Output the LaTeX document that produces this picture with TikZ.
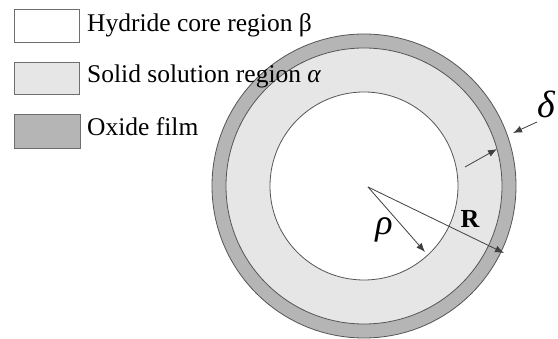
\documentclass[tikz,border=0pt]{standalone}
\usepackage{fontspec}
\setmainfont{Liberation Serif}
\usetikzlibrary{arrows.meta}
\definecolor{ringgray}{HTML}{B5B5B5}
\definecolor{solgray}{HTML}{E6E6E6}
\definecolor{edgegray}{HTML}{555555}
\definecolor{boxedge}{HTML}{6E6E6E}
\begin{document}
\begin{tikzpicture}[x=1pt,y=-1pt,
  legbox/.style={draw=boxedge,line width=0.9pt},
  legtext/.style={anchor=base west,inner sep=0pt,font=\fontsize{25.5}{30}\selectfont},
  edge/.style={draw=edgegray,line width=0.8pt},
  dimarrow/.style={draw=black!75,line width=0.8pt,-{Latex[length=9pt,width=7pt]}}]
\useasboundingbox (0,0) rectangle (558,339);
\fill[white] (0,0) rectangle (558,339);
% circles
\coordinate (C) at (364,186);
\fill[ringgray] (C) circle (152);
\draw[edge] (C) circle (152);
\fill[solgray] (C) circle (138);
\draw[edge] (C) circle (138);
\fill[white] (C) circle (94);
\draw[edge] (C) circle (94);
% legend
\draw[legbox,fill=white] (14,9) rectangle (79,42);
\draw[legbox,fill=solgray] (14,62) rectangle (79,94);
\draw[legbox,fill=ringgray] (14,114) rectangle (80,148);
\node[legtext] (l1) at (87,32) {Hydride core region β};
\node[legtext] (l2) at (87,83) {Solid solution region \textit{α}};
\node[legtext] (l3) at (87,136) {Oxide film};
% dimension arrows
\coordinate (O) at (368,187);
\coordinate (rhoEnd) at (425,252);
\coordinate (REnd) at (504,253);
\coordinate (dInA) at (465,167);
\coordinate (dInB) at (497,149);
\coordinate (dOutA) at (537,122);
\coordinate (dOutB) at (513,133);
\draw[dimarrow] (O) -- (rhoEnd);
\draw[dimarrow] (O) -- (REnd);
\draw[dimarrow] (dInA) -- (dInB);
\draw[dimarrow] (dOutA) -- (dOutB);
\node[inner sep=0pt,font=\fontsize{36}{42}\selectfont\itshape] (rho) at (384,230) {ρ};
\node[inner sep=0pt,font=\fontsize{26}{30}\selectfont\bfseries] (R) at (470,219) {R};
\node[inner sep=0pt,font=\fontsize{38}{44}\selectfont\itshape] (delta) at (546,104) {δ};
\end{tikzpicture}
\end{document}
